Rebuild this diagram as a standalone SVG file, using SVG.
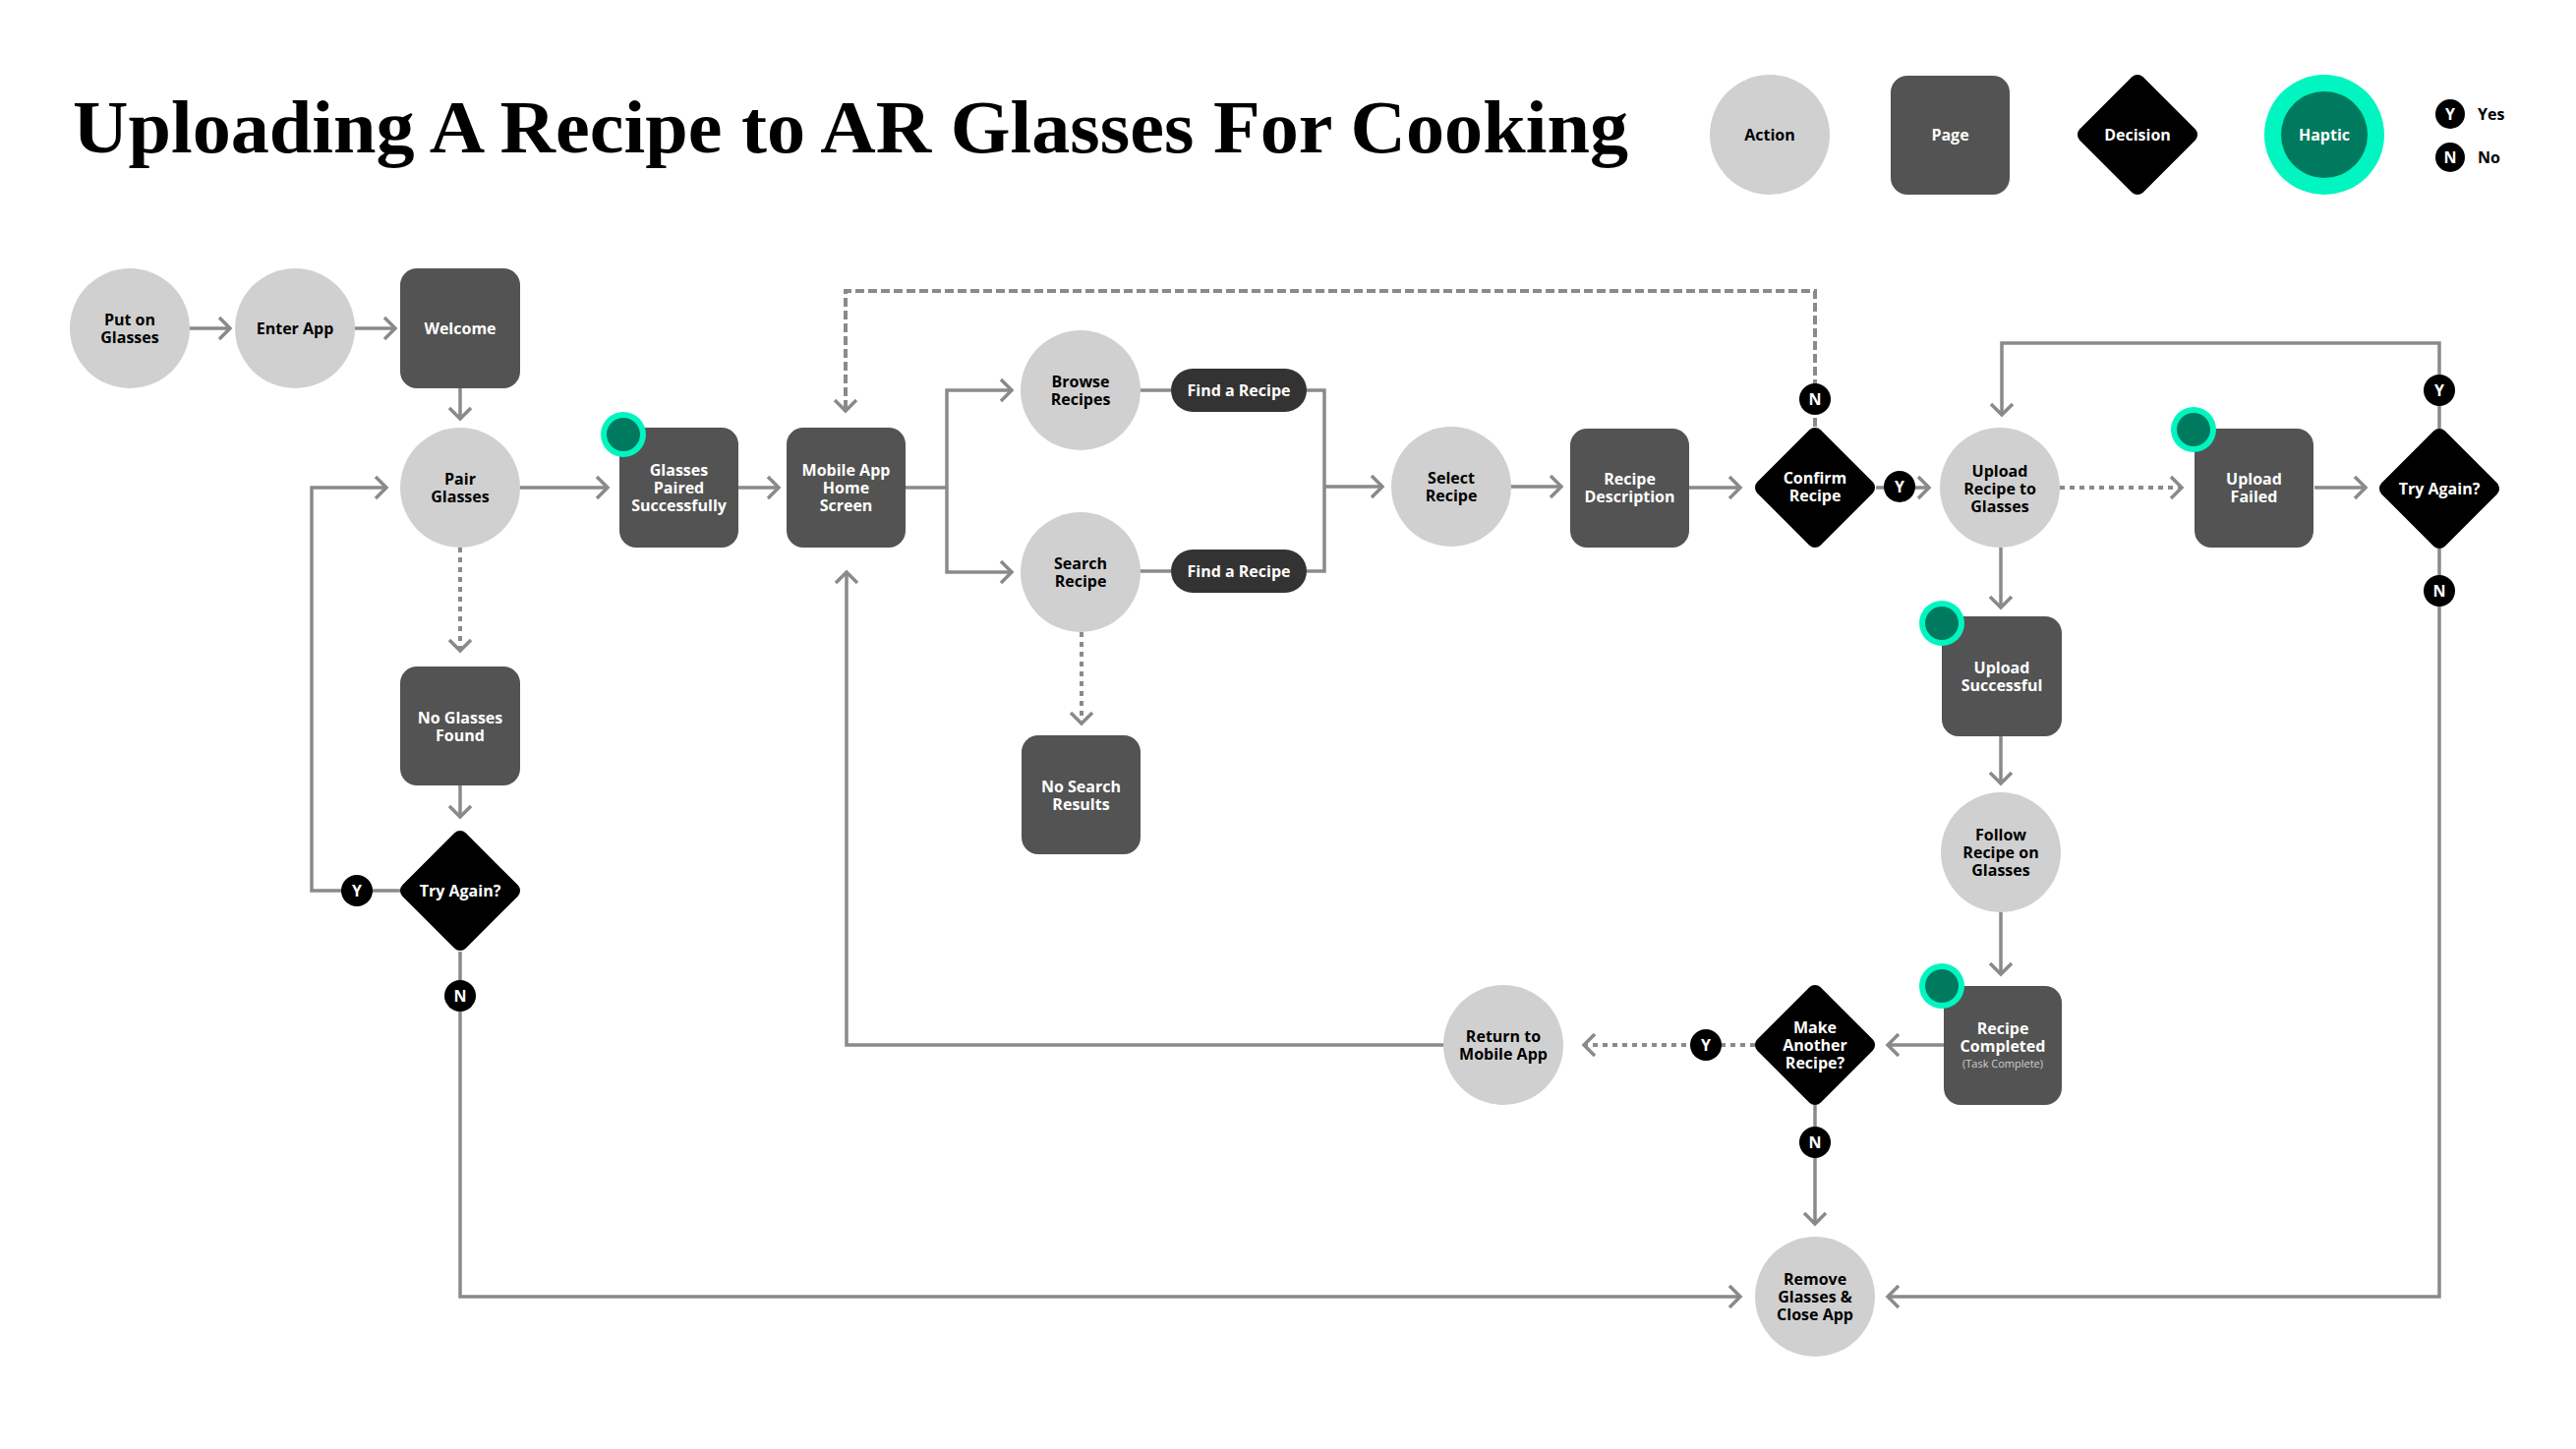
<svg xmlns="http://www.w3.org/2000/svg" width="2620" height="1474" viewBox="0 0 2620 1474">
<defs>
<style>
.bg{fill:#ffffff}
.act{fill:#d0d0d0}
.page{fill:#535353}
.pill{fill:#333333}
.dec{fill:#000000}
.hapo{fill:#00f5c0}
.hapi{fill:#007a5e}
.badge{fill:#000000}
.t{font-family:"Open Sans","Noto Sans","Liberation Sans",sans-serif;font-weight:700;font-size:16px;text-anchor:middle}
.tb{fill:#000000}
.tw{fill:#ffffff}
.small{font-family:"Open Sans","Noto Sans","Liberation Sans",sans-serif;font-weight:400;font-size:11px;fill:#cfcfcf;text-anchor:middle}
.leg{font-family:"Open Sans","Noto Sans","Liberation Sans",sans-serif;font-weight:700;font-size:16px;fill:#000000}
.title{font-family:"Liberation Serif","DejaVu Serif",serif;font-weight:700;font-size:76px;fill:#000000}
.ln{fill:none;stroke:#8a8a8a;stroke-width:3.5}
.dash{stroke-dasharray:9 4;stroke-width:4}
.dot{stroke-dasharray:5 5;stroke-width:4}
.arr{marker-end:url(#chev)}
</style>
<marker id="chev" viewBox="-2 -2 16 26" refX="11" refY="11" markerWidth="16" markerHeight="26" markerUnits="userSpaceOnUse" orient="auto">
<path d="M0,0 L11,11 L0,22" fill="none" stroke="#8a8a8a" stroke-width="3.5"/>
</marker>
</defs>
<rect class="bg" x="0" y="0" width="2620" height="1474"/>

<g id="title">
<text class="title" x="74" y="155" textLength="1582" lengthAdjust="spacingAndGlyphs">Uploading A Recipe to AR Glasses For Cooking</text>
</g>

<g id="legend">
<g id="legend-action"><circle class="act" cx="1800" cy="137" r="61"/><text class="t tb" x="1800" y="143">Action</text></g>
<g id="legend-page"><rect class="page" x="1923" y="77" width="121" height="121" rx="17"/><text class="t tw" x="1983.5" y="143">Page</text></g>
<g id="legend-decision"><rect class="dec" x="2128.5" y="91.5" width="91" height="91" rx="8" transform="rotate(45 2174 137)"/><text class="t tw" x="2174" y="143">Decision</text></g>
<g id="legend-haptic"><circle class="hapo" cx="2364" cy="137" r="61"/><circle class="hapi" cx="2364" cy="137" r="44"/><text class="t tw" x="2364" y="143">Haptic</text></g>
<g id="legend-yes"><circle class="badge" cx="2492" cy="116" r="15"/><text class="t tw" x="2492" y="122">Y</text><text class="leg" x="2520" y="122">Yes</text></g>
<g id="legend-no"><circle class="badge" cx="2492" cy="160" r="15"/><text class="t tw" x="2492" y="166">N</text><text class="leg" x="2520" y="166">No</text></g>
</g>

<g id="connectors">
<path class="ln arr" d="M192,334 H234"/>
<path class="ln arr" d="M361,334 H402"/>
<path class="ln arr" d="M468,395 V426"/>
<path class="ln arr" d="M529,496 H618"/>
<path class="ln arr" d="M751,496 H792"/>
<path class="ln" d="M921,496 H963"/>
<path class="ln arr" d="M963,496 V397 H1029"/>
<path class="ln arr" d="M963,496 V582 H1029"/>
<path class="ln" d="M1159,397 H1191"/>
<path class="ln" d="M1159,581 H1191"/>
<path class="ln" d="M1329,397 H1347 V581 H1329"/>
<path class="ln arr" d="M1347,495 H1406"/>
<path class="ln arr" d="M1537,495 H1588"/>
<path class="ln arr" d="M1718,496 H1770"/>
<path class="ln arr" d="M1908,496 H1962"/>
<path class="ln dash arr" d="M1846,434 V296 H860 V418"/>
<path class="ln dot arr" d="M2095,496 H2219"/>
<path class="ln arr" d="M2354,496 H2406"/>
<path class="ln arr" d="M2481,436 V349 H2036 V422"/>
<path class="ln arr" d="M2481,558 V1319 H1920"/>
<path class="ln arr" d="M2035,557 V618"/>
<path class="ln arr" d="M2035,749 V797"/>
<path class="ln arr" d="M2035,928 V991"/>
<path class="ln arr" d="M1977,1063 H1920"/>
<path class="ln dot arr" d="M1785,1063 H1611"/>
<path class="ln arr" d="M1469,1063 H861 V582"/>
<path class="ln arr" d="M1846,1124 V1245"/>
<path class="ln dot arr" d="M468,557 V662"/>
<path class="ln arr" d="M468,799 V831"/>
<path class="ln arr" d="M407,906 H317 V496 H393"/>
<path class="ln arr" d="M468,968 V1319 H1770"/>
<path class="ln dot arr" d="M1100,643 V736"/>
</g>

<g id="put-on-glasses"><circle class="act" cx="132" cy="334" r="61"/><text class="t tb"><tspan x="132" y="331">Put on</tspan><tspan x="132" y="349">Glasses</tspan></text></g>
<g id="enter-app"><circle class="act" cx="300" cy="334" r="61"/><text class="t tb" x="300" y="340">Enter App</text></g>
<g id="welcome"><rect class="page" x="407" y="273" width="122" height="122" rx="17"/><text class="t tw" x="468" y="340">Welcome</text></g>
<g id="pair-glasses"><circle class="act" cx="468" cy="496" r="61"/><text class="t tb"><tspan x="468" y="493">Pair</tspan><tspan x="468" y="511">Glasses</tspan></text></g>
<g id="glasses-paired"><rect class="page" x="630" y="435" width="121" height="122" rx="17"/><circle class="hapo" cx="634" cy="442" r="23"/><circle class="hapi" cx="634" cy="442" r="17"/><text class="t tw"><tspan x="690.5" y="484">Glasses</tspan><tspan x="690.5" y="502">Paired</tspan><tspan x="690.5" y="520">Successfully</tspan></text></g>
<g id="mobile-home"><rect class="page" x="800" y="435" width="121" height="122" rx="17"/><text class="t tw"><tspan x="860.5" y="484">Mobile App</tspan><tspan x="860.5" y="502">Home</tspan><tspan x="860.5" y="520">Screen</tspan></text></g>
<g id="browse-recipes"><circle class="act" cx="1099" cy="397" r="61"/><text class="t tb"><tspan x="1099" y="394">Browse</tspan><tspan x="1099" y="412">Recipes</tspan></text></g>
<g id="find-recipe-1"><rect class="pill" x="1191" y="375" width="138" height="44" rx="22"/><text class="t tw" x="1260" y="403">Find a Recipe</text></g>
<g id="search-recipe"><circle class="act" cx="1099" cy="582" r="61"/><text class="t tb"><tspan x="1099" y="579">Search</tspan><tspan x="1099" y="597">Recipe</tspan></text></g>
<g id="find-recipe-2"><rect class="pill" x="1191" y="559" width="138" height="44" rx="22"/><text class="t tw" x="1260" y="587">Find a Recipe</text></g>
<g id="no-search-results"><rect class="page" x="1039" y="748" width="121" height="121" rx="17"/><text class="t tw"><tspan x="1099.5" y="806">No Search</tspan><tspan x="1099.5" y="824">Results</tspan></text></g>
<g id="select-recipe"><circle class="act" cx="1476" cy="495" r="61"/><text class="t tb"><tspan x="1476" y="492">Select</tspan><tspan x="1476" y="510">Recipe</tspan></text></g>
<g id="recipe-description"><rect class="page" x="1597" y="436" width="121" height="121" rx="17"/><text class="t tw"><tspan x="1657.5" y="493">Recipe</tspan><tspan x="1657.5" y="511">Description</tspan></text></g>
<g id="confirm-recipe"><rect class="dec" x="1800.5" y="450.5" width="91" height="91" rx="8" transform="rotate(45 1846 496)"/><text class="t tw"><tspan x="1846" y="492">Confirm</tspan><tspan x="1846" y="510">Recipe</tspan></text></g>
<g id="upload-recipe"><circle class="act" cx="2034" cy="496" r="61"/><text class="t tb"><tspan x="2034" y="485">Upload</tspan><tspan x="2034" y="503">Recipe to</tspan><tspan x="2034" y="521">Glasses</tspan></text></g>
<g id="upload-failed"><rect class="page" x="2232" y="436" width="121" height="121" rx="17"/><circle class="hapo" cx="2231" cy="437" r="23"/><circle class="hapi" cx="2231" cy="437" r="17"/><text class="t tw"><tspan x="2292.5" y="493">Upload</tspan><tspan x="2292.5" y="511">Failed</tspan></text></g>
<g id="try-again-right"><rect class="dec" x="2435.5" y="451.5" width="91" height="91" rx="8" transform="rotate(45 2481 497)"/><text class="t tw" x="2481" y="503">Try Again?</text></g>
<g id="upload-successful"><rect class="page" x="1975" y="627" width="122" height="122" rx="17"/><circle class="hapo" cx="1975" cy="634" r="23"/><circle class="hapi" cx="1975" cy="634" r="17"/><text class="t tw"><tspan x="2036" y="685">Upload</tspan><tspan x="2036" y="703">Successful</tspan></text></g>
<g id="follow-recipe"><circle class="act" cx="2035" cy="867" r="61"/><text class="t tb"><tspan x="2035" y="855">Follow</tspan><tspan x="2035" y="873">Recipe on</tspan><tspan x="2035" y="891">Glasses</tspan></text></g>
<g id="recipe-completed"><rect class="page" x="1977" y="1003" width="120" height="121" rx="17"/><circle class="hapo" cx="1975" cy="1003" r="23"/><circle class="hapi" cx="1975" cy="1003" r="17"/><text class="t tw"><tspan x="2037" y="1052">Recipe</tspan><tspan x="2037" y="1070">Completed</tspan></text><text class="small" x="2037" y="1086">(Task Complete)</text></g>
<g id="make-another"><rect class="dec" x="1800.5" y="1017.5" width="91" height="91" rx="8" transform="rotate(45 1846 1063)"/><text class="t tw"><tspan x="1846" y="1051">Make</tspan><tspan x="1846" y="1069">Another</tspan><tspan x="1846" y="1087">Recipe?</tspan></text></g>
<g id="return-mobile"><circle class="act" cx="1529" cy="1063" r="61"/><text class="t tb"><tspan x="1529" y="1060">Return to</tspan><tspan x="1529" y="1078">Mobile App</tspan></text></g>
<g id="remove-glasses"><circle class="act" cx="1846" cy="1319" r="61"/><text class="t tb"><tspan x="1846" y="1307">Remove</tspan><tspan x="1846" y="1325">Glasses &amp;</tspan><tspan x="1846" y="1343">Close App</tspan></text></g>
<g id="no-glasses-found"><rect class="page" x="407" y="678" width="122" height="121" rx="17"/><text class="t tw"><tspan x="468" y="736">No Glasses</tspan><tspan x="468" y="754">Found</tspan></text></g>
<g id="try-again-left"><rect class="dec" x="422.5" y="860.5" width="91" height="91" rx="8" transform="rotate(45 468 906)"/><text class="t tw" x="468" y="912">Try Again?</text></g>

<g id="badges">
<g id="badge-confirm-n"><circle class="badge" cx="1846" cy="406" r="16"/><text class="t tw" x="1846" y="412">N</text></g>
<g id="badge-confirm-y"><circle class="badge" cx="1932" cy="495" r="16"/><text class="t tw" x="1932" y="501">Y</text></g>
<g id="badge-retry-right-y"><circle class="badge" cx="2481" cy="397" r="16"/><text class="t tw" x="2481" y="403">Y</text></g>
<g id="badge-retry-right-n"><circle class="badge" cx="2481" cy="601" r="16"/><text class="t tw" x="2481" y="607">N</text></g>
<g id="badge-another-y"><circle class="badge" cx="1735" cy="1063" r="16"/><text class="t tw" x="1735" y="1069">Y</text></g>
<g id="badge-another-n"><circle class="badge" cx="1846" cy="1162" r="16"/><text class="t tw" x="1846" y="1168">N</text></g>
<g id="badge-retry-left-y"><circle class="badge" cx="363" cy="906" r="16"/><text class="t tw" x="363" y="912">Y</text></g>
<g id="badge-retry-left-n"><circle class="badge" cx="468" cy="1013" r="16"/><text class="t tw" x="468" y="1019">N</text></g>
</g>
</svg>
